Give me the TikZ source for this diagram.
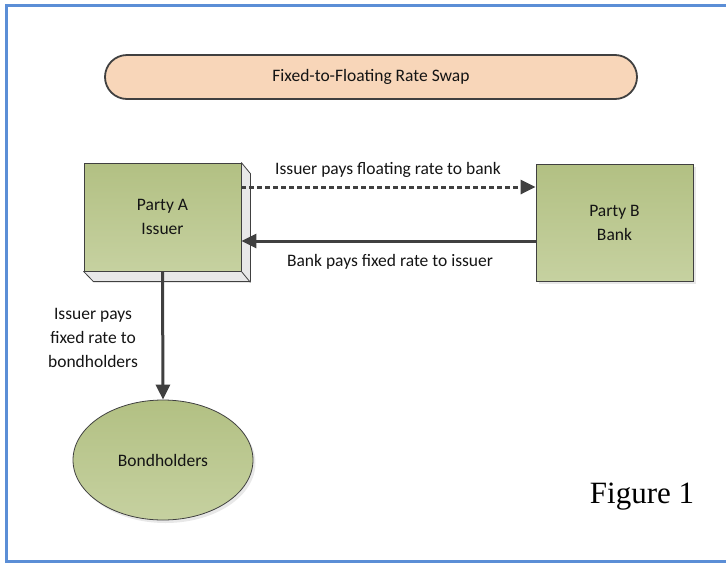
\documentclass[tikz,border=0pt]{standalone}
\usepackage{fontspec}
\setmainfont{Carlito}
\newfontfamily\captionserif{Liberation Serif}
\usetikzlibrary{arrows.meta,shapes.geometric,shadows}

\definecolor{frameblue}{RGB}{91,142,214}
\definecolor{ink}{RGB}{64,64,64}
\definecolor{peach}{RGB}{248,214,185}
\definecolor{olivetop}{RGB}{178,192,131}
\definecolor{olivebot}{RGB}{198,209,160}
\definecolor{sidegrey}{RGB}{232,232,232}
\definecolor{txt}{RGB}{20,20,20}

\begin{document}
\begin{tikzpicture}[x=1pt,y=-1pt,
  every node/.style={text=txt, font=\fontsize{17.5}{24}\selectfont, inner sep=0pt},
  party/.style={draw=ink, line width=0.8pt, top color=olivetop, bottom color=olivebot, align=center},
  softshadow/.style={drop shadow={opacity=0.18, shadow xshift=2.5pt, shadow yshift=-3pt}},
  banner/.style={draw=ink, line width=1.8pt, fill=peach, rounded corners=22pt,
    minimum width=532pt, minimum height=44pt},
  flow/.style={draw=ink, line width=3pt, -{Triangle[length=15pt,width=14pt]}},
  paydash/.style={dash pattern=on 4.5pt off 3.5pt},
]
\useasboundingbox (0,0) rectangle (726,563);

% outer frame (its right side runs off the page)
\draw[frameblue, line width=3pt] (740,5) -- (6.5,5) -- (6.5,561) -- (740,561);

% banner
\node[banner] (title) at (371,77) {Fixed-to-Floating Rate Swap};

% party A: front face plus extruded sides
\node[party, minimum width=157pt, minimum height=108pt] (A) at (162.5,217) {Party A\\Issuer};
\filldraw[fill=sidegrey, draw=ink, line width=0.8pt, line join=round]
  (A.north east) -- ++(9,11) -- ++(0,108) -- ++(-157,0) -- (A.south west)
  -- (A.south east) -- cycle;
\draw[ink, line width=0.8pt] (A.south east) -- ++(9,11);

% party B
\node[party, softshadow, minimum width=157pt, minimum height=117pt] (B) at (614.5,222.5) {Party B\\Bank};

% bondholders
\node[party, ellipse, softshadow, minimum width=180pt, minimum height=120pt] (C) at (163,460) {Bondholders};

% payment flows
\coordinate (floatrow) at (0,187);
\coordinate (fixedrow) at (0,241);
\draw[flow, paydash] (A.east |- floatrow) -- (B.west |- floatrow);
\draw[flow] (B.west |- fixedrow) -- (A.east |- fixedrow);
\draw[flow] (A.south) -- (C.north);

% flow labels
\node[anchor=base] (floatlbl) at (388,174) {Issuer pays floating rate to bank};
\node[anchor=base] (fixedlbl) at (390,266) {Bank pays fixed rate to issuer};
\node[align=center] (bondlbl) at (93,338) {Issuer pays\\fixed rate to\\bondholders};

% caption
\node[anchor=base, font=\captionserif\fontsize{31}{36}\selectfont, text=black] (fig) at (642,503) {Figure 1};
\end{tikzpicture}
\end{document}
